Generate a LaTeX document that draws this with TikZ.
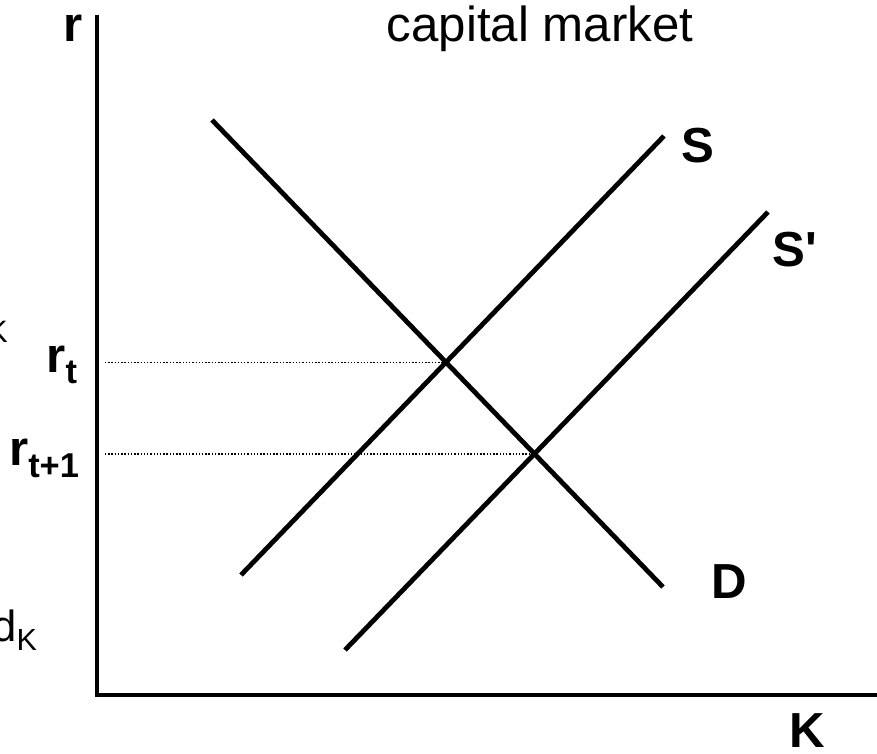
\documentclass[tikz,border=0pt]{standalone}
\usepackage{fontspec}
\setmainfont{Liberation Sans}
\usetikzlibrary{positioning}

\tikzset{
	curve/.style={line width=3.4pt},
	guide/.style={line width=1pt, dash pattern=on 1pt off 1.3pt},
	lbl/.style={font=\fontsize{35}{40}\selectfont\bfseries, anchor=base, inner sep=0pt},
}

\begin{document}
\begin{tikzpicture}[x=0.025cm, y=-0.025cm]
	\useasboundingbox (0,0) rectangle (877,754);
	\clip (0,0) rectangle (877,754);
	% axes
	\coordinate (top) at (97,15);
	\coordinate (orig) at (97,695);
	\coordinate (right) at (877,695);
	\draw[line width=3.3pt] (top) -- (orig) -- (right);
	% demand and the two supply curves
	\coordinate (d0) at (212,120);
	\coordinate (d1) at (663,587);
	\coordinate (s0) at (241,575);
	\coordinate (s1) at (664,136);
	\coordinate (sp0) at (345,650);
	\coordinate (sp1) at (768,212);
	\draw[curve] (d0) -- (d1);
	\draw[curve] (s0) -- (s1);
	\draw[curve] (sp0) -- (sp1);
	% equilibria
	\coordinate (eq) at (intersection of d0--d1 and s0--s1);
	\coordinate (eqp) at (intersection of d0--d1 and sp0--sp1);
	\coordinate (g0) at (105,0);
	\draw[guide] (g0 |- eq) -- (eq);
	\draw[guide] (g0 |- eqp) -- (eqp);
	% labels
	\node[lbl] (rlab) at (73,42) {r};
	\node[anchor=base, inner sep=0pt, font=\fontsize{35}{40}\selectfont] (title) at (540,42) {capital market};
	\node[lbl] (slab) at (698,163) {S};
	\node[lbl] (splab) at (795,267) {S\textquotesingle};
	\node[lbl] (dlab) at (729,599) {D};
	\node[lbl] (klab) at (807,747) {K};
	\node[lbl, anchor=base east] (rt) at (78,373) {r\textsubscript{t}};
	\node[lbl, anchor=base east] (rt1) at (80,466) {r\textsubscript{t+1}};
	% cut-off texts at the left edge
	\node[anchor=base east, inner sep=0pt, font=\fontsize{22}{26}\selectfont] (kcut) at (8,343) {K};
	\node[anchor=base west, inner sep=0pt, font=\fontsize{31}{36}\selectfont] (dk) at (-8,642) {d\textsubscript{K}};
\end{tikzpicture}
\end{document}
